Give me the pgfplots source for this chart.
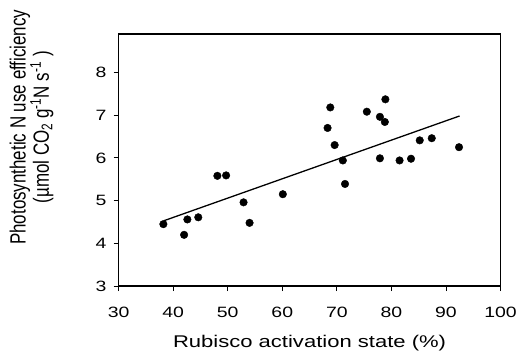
\documentclass[border=0pt]{standalone}
\usepackage{fontspec}
\setmainfont{Liberation Sans}
\usepackage{pgfplots}
\pgfplotsset{compat=1.18}
\begin{document}
\begin{tikzpicture}
\begin{axis}[
  name=ax,
  at={(0,0)}, anchor=south west,
  scale only axis,
  width=383bp, height=253bp,
  xmin=30, xmax=100, ymin=3, ymax=8.9,
  xtick={30,40,...,100}, ytick={3,4,...,8},
  tick align=outside, tick pos=left,
  major tick length=5bp,
  axis line style={line width=1.7pt},
  every tick/.style={line width=0.8pt, black},
  /pgf/number format/assume math mode=true,
  ticklabel style={font=\fontsize{15bp}{18bp}\selectfont, xscale=1.3},
  xticklabel style={yshift=-12bp},
  yticklabel style={xshift=-2bp},
  xlabel={Rubisco activation state (\%)},
  xlabel style={font=\fontsize{17bp}{20bp}\selectfont, xscale=1.3, yshift=-11bp},
  ylabel={Photosynthetic N use efficiency\\(µmol CO\textsubscript{2} g\textsuperscript{-1}N s\textsuperscript{-1} )},
  every axis y label/.style={at={(axis description cs:-0.228,0.63)}, anchor=center, xscale=1.3, rotate=90, align=center, font=\fontsize{17bp}{18bp}\selectfont},
  clip=false,
]
\addplot[only marks, mark=*, mark size=3.8bp, black] coordinates {
(38.2,4.45) (42.0,4.20) (42.6,4.56) (44.6,4.61) (48.1,5.58) (49.7,5.59)
(52.9,4.96) (54.0,4.48) (60.1,5.15) (68.3,6.70) (68.8,7.18) (69.6,6.30)
(71.1,5.94) (71.5,5.39) (75.5,7.08) (77.9,6.96) (77.9,5.99) (78.8,6.84)
(78.9,7.37) (81.5,5.94) (83.6,5.98) (85.2,6.41) (87.4,6.46) (92.4,6.25)
};
\addplot[black, line width=1.3pt] coordinates {(38.3,4.53) (92.5,6.98)};
\end{axis}
\path (ax.south west) ++(-119bp,-70bp) coordinate (bl);
\path (ax.south west) ++(402bp,287bp) coordinate (tr);
\path (bl) rectangle (tr);
\end{tikzpicture}
\end{document}
